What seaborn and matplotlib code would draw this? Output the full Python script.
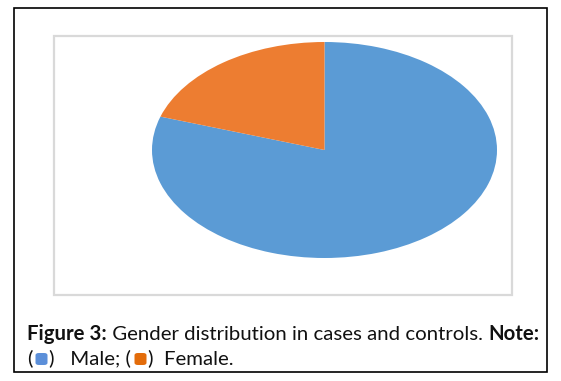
import matplotlib
matplotlib.use("Agg")
import matplotlib.pyplot as plt
import matplotlib.patches as patches
import seaborn as sns

# data
genders = ["Male", "Female"]
shares = [80, 20]
slice_colors = ["#5B9BD5", "#ED7D31"]
legend_colors = ["#5B8FD9", "#E36C0A"]

sns.set_theme(style="white")
plt.rcParams["font.family"] = ["Lato", "DejaVu Sans"]

fig = plt.figure(figsize=(5.61, 3.81), dpi=100)
W, H = 561, 381

def fx(px):
    return px / W

def fy(py):
    return 1 - py / H

# outer black frame and grey chart area
fig.add_artist(patches.Rectangle((fx(14), fy(372)), fx(533), 364 / H,
                                 fill=False, ec="black", lw=1.2, transform=fig.transFigure))
fig.add_artist(patches.Rectangle((fx(54), fy(295)), fx(458), 259 / H,
                                 fill=False, ec="#D9D9D9", lw=1.6, transform=fig.transFigure))

# the pie, stretched into an ellipse
ax = fig.add_axes([fx(152), fy(258), fx(345), 216 / H])
ax.pie(shares, colors=slice_colors, startangle=90, counterclock=False,
       wedgeprops=dict(linewidth=0))
ax.set_aspect("auto")
ax.set_xlim(-1.0, 1.0)
ax.set_ylim(-1.0, 1.0)
ax.axis("off")

# caption with mixed bold / regular runs
fig.canvas.draw()
renderer = fig.canvas.get_renderer()
fs = 14.7

def run(x, y, s, weight="normal"):
    t = fig.text(x, y, s, fontsize=fs, fontweight=weight, ha="left", va="baseline",
                 color="#111111")
    bb = t.get_window_extent(renderer=renderer)
    return x + bb.width / W

def swatch(x, y, color):
    size = 12
    box = patches.FancyBboxPatch((x + fx(3), y - 1 / H), fx(size), size / H,
                                 boxstyle="round,pad=0,rounding_size=0.006",
                                 fc=color, ec="none", transform=fig.transFigure)
    fig.add_artist(box)
    return x + fx(size + 5)

y1 = fy(340)
x = fx(27)
x = run(x, y1, "Figure 3:", "bold")
x = run(x, y1, " Gender distribution in cases and controls. ")
run(x, y1, "Note:", "bold")

y2 = fy(364)
x = fx(27)
x = run(x, y2, "(")
x = swatch(x, y2, legend_colors[0])
x = run(x, y2, ")   " + genders[0] + "; (")
x = swatch(x, y2, legend_colors[1])
run(x, y2, ")  " + genders[1] + ".")

fig.savefig("out.png", dpi=100)
